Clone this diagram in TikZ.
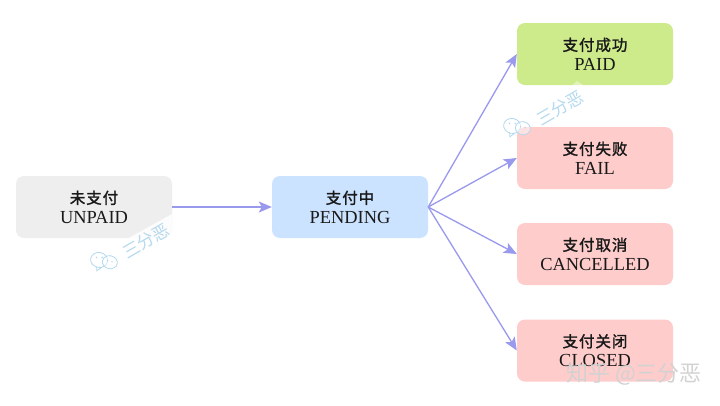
\documentclass[tikz,border=0pt]{standalone}
\usepackage{fontspec}
\setmainfont{Liberation Serif}
\newfontfamily\cjk[LetterSpace=6,FakeBold=1.6]{Noto Sans CJK SC}
\newfontfamily\cjkplain{Noto Sans CJK SC}
\usetikzlibrary{arrows.meta}
\definecolor{grayfill}{HTML}{EEEEEE}
\definecolor{bluefill}{HTML}{CCE3FF}
\definecolor{greenfill}{HTML}{CDEB8B}
\definecolor{redfill}{HTML}{FFCCCC}
\definecolor{arrowc}{HTML}{9999EE}
\definecolor{markc}{HTML}{B5D9EE}
\definecolor{zhc}{HTML}{D2D2D2}
\tikzset{
  state/.style={rounded corners=8pt,minimum width=156pt,minimum height=62pt,inner sep=0pt,
    align=center,font=\fontsize{18.4pt}{21pt}\selectfont,text=black!90},
  flow/.style={draw=arrowc,line width=1.3pt,-{Stealth[length=13pt,width=11pt,inset=3pt]}},
  marktext/.style={text=markc,font=\cjkplain\fontsize{17pt}{17pt}\selectfont,rotate=30,inner sep=0pt},
  markicon/.style={draw=markc,line width=.8pt},
  markdot/.style={fill=markc},
}
\newcommand{\czh}[1]{{\cjk\fontsize{15.5pt}{21pt}\selectfont\raisebox{-1.5pt}{#1}}}
\newcommand{\wicon}[2]{%
  \begin{scope}[shift={(#1,#2)},rotate=-12]
    \draw[markicon] (-5,0) ellipse (8.5 and 7.5);
    \draw[markicon] (-6,7.2) -- (-5,11) -- (-1,6.8);
    \draw[markicon,fill=white,fill opacity=.45] (6,0) ellipse (7.5 and 6.5);
    \fill[markdot] (-8,-2) circle (.9) (-2.5,-3) circle (.9) (3.5,-1) circle (.8) (8,-1) circle (.8);
  \end{scope}
}
\begin{document}
\begin{tikzpicture}[x=1pt,y=-1pt]
\useasboundingbox[fill=white] (0,0) rectangle (720,405);
\node[state,fill=grayfill] (unpaid) at (94,207) {\czh{未支付}\\UNPAID};
\node[state,fill=bluefill] (pending) at (350,207) {\czh{支付中}\\PENDING};
\node[state,fill=greenfill] (paid) at (595,54) {\czh{支付成功}\\PAID};
\node[state,fill=redfill] (fail) at (595,158) {\czh{支付失败}\\FAIL};
\node[state,fill=redfill] (cancelled) at (595,254) {\czh{支付取消}\\CANCELLED};
\node[state,fill=redfill] (closed) at (595,350.5) {\czh{支付关闭}\\CLOSED};
\draw[flow] (unpaid.east) -- (pending.west);
\draw[flow] (pending.east) -- (paid.west);
\draw[flow] (pending.east) -- (fail.west);
\draw[flow] (pending.east) -- (cancelled.west);
\draw[flow] (pending.east) -- (closed.west);
% watermark 1
\fill[white,opacity=.85] (172,214) -- (127,239) -- (172,239) -- cycle;
\node[marktext] (mark1) at (146,241) {三分恶};
\wicon{104}{261}
% watermark 2
\fill[white,opacity=.4] (572,85.5) -- (584,85.5) -- (577,81) -- cycle;
\node[marktext] (mark2) at (560,108) {三分恶};
\wicon{517}{127}
% site watermark
\node[text=zhc,font=\cjkplain\fontsize{22pt}{22pt}\selectfont,inner sep=0pt] (zhihu) at (634,374) {知乎 @三分恶};
\end{tikzpicture}
\end{document}
